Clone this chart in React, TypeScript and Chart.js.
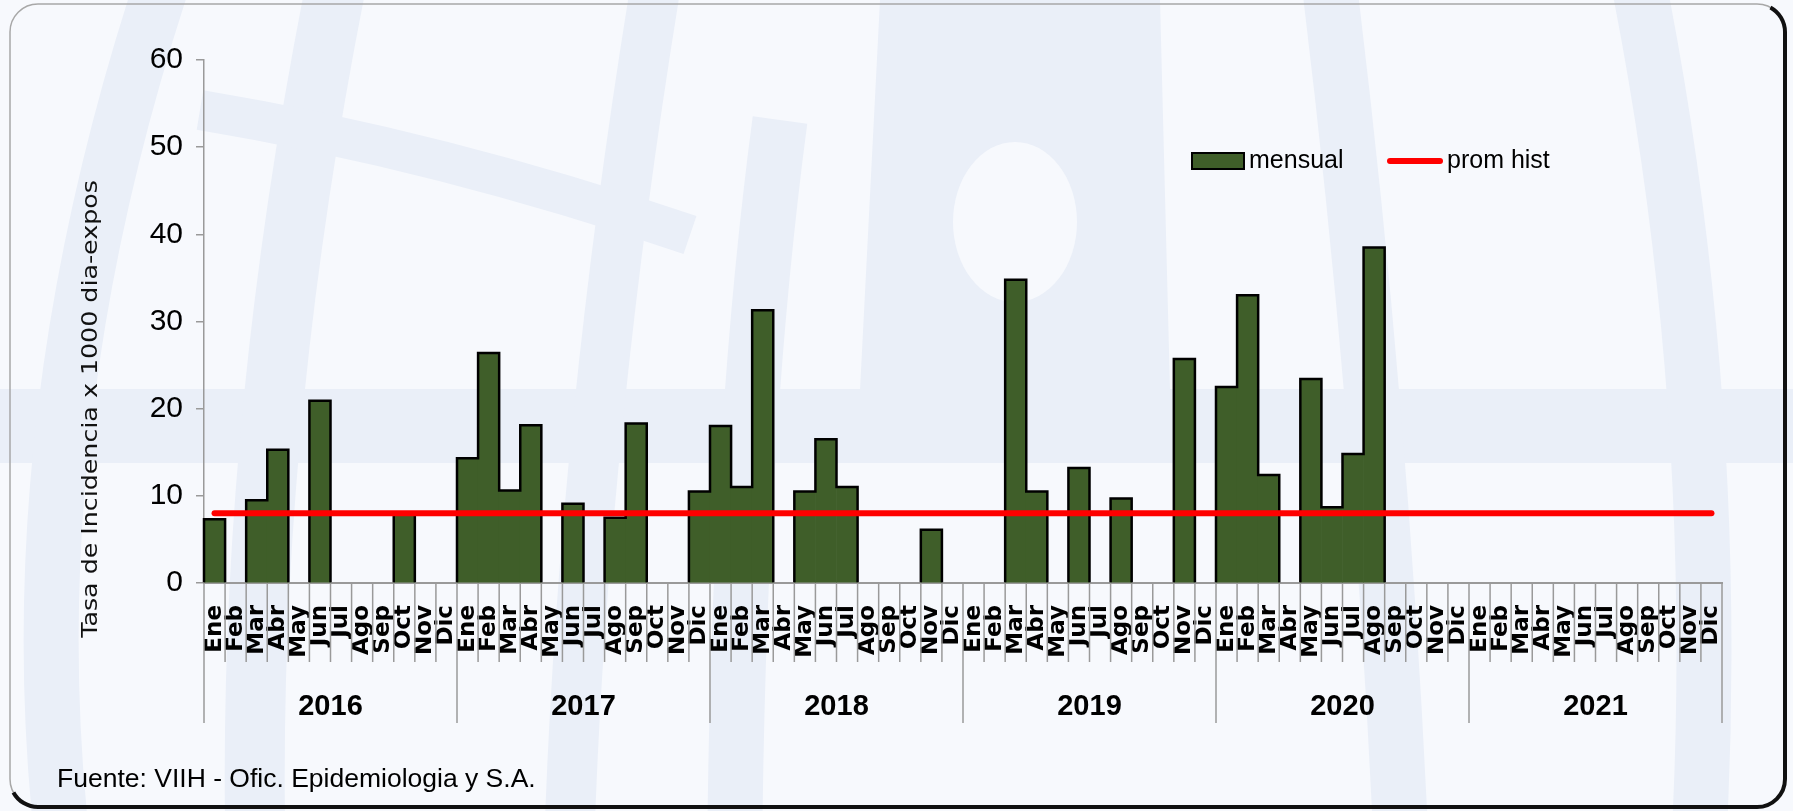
import React, { useEffect, useRef } from "react";
import { Chart, registerables } from "chart.js";

Chart.register(...registerables);

const MONTHS = ["Ene", "Feb", "Mar", "Abr", "May", "Jun", "Jul", "Ago", "Sep", "Oct", "Nov", "Dic"];
const YEARS = ["2016", "2017", "2018", "2019", "2020", "2021"];

const mensual2016 = [7.3, null, 9.5, 15.3, null, 20.9, null, null, null, 7.9, null, null];
const mensual2017 = [14.3, 26.4, 10.6, 18.1, null, 9.1, null, 7.5, 18.3, null, null, 10.5];
const mensual2018 = [18.0, 11.0, 31.3, null, 10.5, 16.5, 11.0, null, null, null, 6.1, null];
const mensual2019 = [null, null, 34.8, 10.5, null, 13.2, null, 9.7, null, null, 25.7, null];
const mensual2020 = [22.5, 33.0, 12.4, null, 23.4, 8.7, 14.8, 38.5, null, null, null, null];
const mensual2021 = [null, null, null, null, null, null, null, null, null, null, null, null];

const PROM_HIST = 8.0;
const Y_MIN = 0;
const Y_MAX = 60;
const Y_STEP = 10;

const SOURCE_TEXT = "Fuente: VIIH - Ofic. Epidemiologia y S.A.";
const Y_TITLE = "Tasa de Incidencia x 1000 dia-expos";
const LEGEND_BAR = "mensual";
const LEGEND_LINE = "prom hist";

const W = 1793;
const H = 811;
const BAR_COLOR = "#3F5E29";
const LINE_COLOR = "#FF0000";
const AXIS_GRAY = "#9A9A9A";
const BG_LIGHT = "#F7F9FD";
const BG_BAND = "#EAEFF8";

const bgPlugin = {
  id: "bgPlugin",
  beforeDraw(chart: any) {
    const ctx = chart.ctx as CanvasRenderingContext2D;
    ctx.save();
    ctx.fillStyle = BG_LIGHT;
    ctx.fillRect(0, 0, W, H);
    ctx.strokeStyle = BG_BAND;
    ctx.fillStyle = BG_BAND;
    // upper central region with white oval
    ctx.beginPath();
    ctx.moveTo(880, 0);
    ctx.lineTo(1160, 0);
    ctx.lineTo(1170, 390);
    ctx.lineTo(860, 390);
    ctx.closePath();
    ctx.fill();
    ctx.fillStyle = BG_LIGHT;
    ctx.beginPath();
    ctx.ellipse(1015, 222, 62, 80, 0, 0, Math.PI * 2);
    ctx.fill();
    ctx.fillStyle = BG_BAND;
    // horizontal latitude band
    ctx.fillRect(0, 389, W, 74);
    ctx.lineCap = "butt";
    const band = (pts: number[][], w: number) => {
      ctx.lineWidth = w;
      ctx.beginPath();
      ctx.moveTo(pts[0][0], pts[0][1]);
      if (pts.length === 3) ctx.quadraticCurveTo(pts[1][0], pts[1][1], pts[2][0], pts[2][1]);
      else ctx.lineTo(pts[1][0], pts[1][1]);
      ctx.stroke();
    };
    band([[160, -10], [20, 420], [60, 820]], 55);
    band([[335, -10], [250, 420], [255, 820]], 60);
    band([[655, -10], [585, 420], [570, 820]], 50);
    band([[780, 120], [740, 420], [735, 820]], 55);
    band([[1330, -10], [1380, 400], [1400, 820]], 55);
    band([[1640, -10], [1720, 400], [1700, 820]], 55);
    band([[200, 110], [440, 150], [690, 235]], 40);

    // frame
    const x0 = 10, y0 = 4, x1 = 1785, y1 = 807, r = 28;
    ctx.lineWidth = 1.5;
    ctx.strokeStyle = "#A8A8A8";
    ctx.beginPath();
    ctx.moveTo(x0 + r, y0);
    ctx.lineTo(x1 - r, y0);
    ctx.arc(x1 - r, y0 + r, r, -Math.PI / 2, 0);
    ctx.lineTo(x1, y1 - r);
    ctx.arc(x1 - r, y1 - r, r, 0, Math.PI / 2);
    ctx.lineTo(x0 + r, y1);
    ctx.arc(x0 + r, y1 - r, r, Math.PI / 2, Math.PI);
    ctx.lineTo(x0, y0 + r);
    ctx.arc(x0 + r, y0 + r, r, Math.PI, Math.PI * 1.5);
    ctx.stroke();
    ctx.lineWidth = 4;
    ctx.strokeStyle = "#111";
    ctx.beginPath();
    ctx.arc(x1 - r, y0 + r, r, -Math.PI / 2 + 0.5, 0);
    ctx.lineTo(x1, y1 - r);
    ctx.arc(x1 - r, y1 - r, r, 0, Math.PI / 2);
    ctx.lineTo(x0 + r, y1);
    ctx.arc(x0 + r, y1 - r, r, Math.PI / 2, Math.PI - 0.5);
    ctx.stroke();
    ctx.restore();
  },
};

const outlinePlugin = {
  id: "outlinePlugin",
  afterDatasetDraw(chart: any, args: any) {
    if (args.index !== 0) return;
    const ctx = chart.ctx as CanvasRenderingContext2D;
    const meta = chart.getDatasetMeta(0);
    const data = chart.data.datasets[0].data as (number | null)[];
    const n = data.length;
    ctx.save();
    ctx.strokeStyle = "#000";
    ctx.lineWidth = 2.5;
    ctx.lineJoin = "miter";
    let i = 0;
    while (i < n) {
      if (data[i] == null) { i++; continue; }
      let j = i;
      while (j + 1 < n && data[j + 1] != null) j++;
      const first = meta.data[i];
      ctx.beginPath();
      ctx.moveTo(first.x - first.width / 2, first.base);
      let lastR = 0;
      for (let k = i; k <= j; k++) {
        const el = meta.data[k];
        const l = el.x - el.width / 2;
        const rr = el.x + el.width / 2;
        ctx.lineTo(l, el.y);
        ctx.lineTo(rr, el.y);
        lastR = rr;
      }
      ctx.lineTo(lastR, first.base);
      ctx.stroke();
      i = j + 1;
    }
    ctx.restore();
  },
};

const decorPlugin = {
  id: "decorPlugin",
  afterDraw(chart: any) {
    const ctx = chart.ctx as CanvasRenderingContext2D;
    const xs = chart.scales.x;
    const area = chart.chartArea;
    const n = chart.data.labels.length;
    const step = xs.getPixelForValue(1) - xs.getPixelForValue(0);
    ctx.save();
    // month / year separators
    ctx.strokeStyle = AXIS_GRAY;
    ctx.lineWidth = 1.5;
    for (let i = 0; i <= n; i++) {
      const x = i < n ? xs.getPixelForValue(i) - step / 2 : xs.getPixelForValue(n - 1) + step / 2;
      const yEnd = i % MONTHS.length === 0 ? 723 : 662;
      ctx.beginPath();
      ctx.moveTo(x, area.bottom);
      ctx.lineTo(x, yEnd);
      ctx.stroke();
    }
    // year labels
    ctx.fillStyle = "#000";
    ctx.font = "bold 29px 'Liberation Sans', Arial, sans-serif";
    ctx.textAlign = "center";
    ctx.textBaseline = "alphabetic";
    YEARS.forEach((yr, yi) => {
      const a = xs.getPixelForValue(yi * 12);
      const b = xs.getPixelForValue(yi * 12 + 11);
      ctx.fillText(yr, (a + b) / 2, 715);
    });
    // y-axis title
    ctx.save();
    ctx.translate(91, 409);
    ctx.rotate(-Math.PI / 2);
    ctx.scale(1.15, 1);
    ctx.font = "22px 'DejaVu Sans', sans-serif";
    ctx.textAlign = "center";
    ctx.textBaseline = "middle";
    ctx.fillStyle = "#111";
    ctx.fillText(Y_TITLE, 0, 0);
    ctx.restore();
    // legend
    ctx.fillStyle = BAR_COLOR;
    ctx.fillRect(1192, 153, 52, 16);
    ctx.strokeStyle = "#000";
    ctx.lineWidth = 2;
    ctx.strokeRect(1192, 153, 52, 16);
    ctx.fillStyle = "#000";
    ctx.font = "25px 'Liberation Sans', Arial, sans-serif";
    ctx.textAlign = "left";
    ctx.textBaseline = "middle";
    ctx.fillText(LEGEND_BAR, 1249, 161);
    ctx.strokeStyle = LINE_COLOR;
    ctx.lineWidth = 6;
    ctx.lineCap = "round";
    ctx.beginPath();
    ctx.moveTo(1390, 161);
    ctx.lineTo(1440, 161);
    ctx.stroke();
    ctx.fillText(LEGEND_LINE, 1447, 161);
    // source
    ctx.font = "26.5px 'Liberation Sans', Arial, sans-serif";
    ctx.textBaseline = "alphabetic";
    ctx.fillText(SOURCE_TEXT, 57, 787);
    ctx.restore();
  },
};

export default function App() {
  const ref = useRef<HTMLCanvasElement | null>(null);
  useEffect(() => {
    document.body.style.margin = "0";
    const labels = YEARS.flatMap(() => MONTHS);
    const mensual = [
      ...mensual2016,
      ...mensual2017,
      ...mensual2018,
      ...mensual2019,
      ...mensual2020,
      ...mensual2021,
    ];
    const prom = labels.map(() => PROM_HIST);
    const chart = new Chart(ref.current as HTMLCanvasElement, {
      type: "bar",
      data: {
        labels,
        datasets: [
          {
            type: "bar",
            label: LEGEND_BAR,
            data: mensual as any,
            backgroundColor: BAR_COLOR,
            borderWidth: 0,
            barPercentage: 1,
            categoryPercentage: 1,
            order: 2,
          },
          {
            type: "line",
            label: LEGEND_LINE,
            data: prom,
            borderColor: LINE_COLOR,
            borderWidth: 6,
            borderCapStyle: "round",
            pointRadius: 0,
            fill: false,
            order: 1,
          } as any,
        ],
      },
      options: {
        responsive: false,
        animation: false,
        layout: { padding: { top: 60, right: 71, bottom: 0, left: 0 } },
        plugins: { legend: { display: false }, tooltip: { enabled: false } },
        scales: {
          x: {
            type: "category",
            grid: { display: false, drawTicks: false, tickLength: 0 },
            border: { display: true, color: AXIS_GRAY, width: 2 },
            ticks: {
              autoSkip: false,
              maxRotation: 90,
              minRotation: 90,
              padding: 22,
              color: "#000",
              font: { family: "'DejaVu Sans', sans-serif", size: 23, weight: "bold" },
            },
            afterFit(scale: any) {
              scale.height = 228;
            },
          },
          y: {
            min: Y_MIN,
            max: Y_MAX,
            ticks: {
              stepSize: Y_STEP,
              padding: 13,
              color: "#000",
              font: { family: "'Liberation Sans', Arial, sans-serif", size: 30 },
            },
            grid: { drawOnChartArea: false, drawTicks: true, tickLength: 8, color: AXIS_GRAY, lineWidth: 1.5 },
            border: { display: true, color: AXIS_GRAY, width: 1.5 },
            afterFit(scale: any) {
              scale.width = 204;
            },
          },
        },
      },
      plugins: [bgPlugin, outlinePlugin, decorPlugin],
    });
    return () => chart.destroy();
  }, []);
  return (
    <div style={{ width: W, height: H }}>
      <canvas ref={ref} width={W} height={H} style={{ display: "block" }} />
    </div>
  );
}
